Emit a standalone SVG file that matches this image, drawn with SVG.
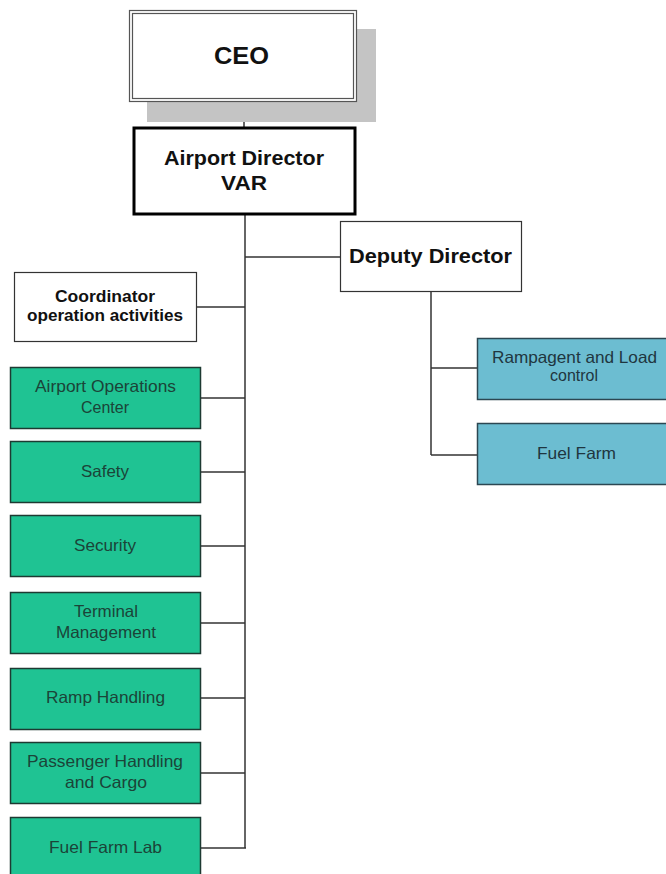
<svg xmlns="http://www.w3.org/2000/svg" width="666" height="874" viewBox="0 0 666 874">
  <style>
    .t { font-family: "Liberation Sans", Arial, sans-serif; text-anchor: middle; }
    .b { font-weight: bold; fill: #111; }
    .g rect { fill: #1fc393; stroke: #1d3a32; stroke-width: 1.5; }
    .g text { fill: #1b4438; font-size: 16.5px; }
    .bl rect { fill: #6cbdd1; stroke: #2c4752; stroke-width: 1.5; }
    .bl text { fill: #1f3640; font-size: 16.5px; }
    .w rect { fill: #fff; stroke: #333; stroke-width: 1.2; }
    .conn line { stroke: #333; stroke-width: 1.5; }
    .main { stroke: #000; stroke-width: 2.5; }
  </style>

  <rect width="666" height="874" fill="#fff"/>

  <g class="conn">
    <line x1="244" y1="101" x2="244" y2="128"/>
    <line class="main" x1="245" y1="215" x2="245" y2="848"/>
    <line x1="245" y1="257" x2="340" y2="257"/>
    <line x1="197" y1="307" x2="245" y2="307"/>
    <line x1="201" y1="398" x2="245" y2="398"/>
    <line x1="201" y1="472" x2="245" y2="472"/>
    <line x1="201" y1="546" x2="245" y2="546"/>
    <line x1="201" y1="623" x2="245" y2="623"/>
    <line x1="201" y1="698" x2="245" y2="698"/>
    <line x1="201" y1="773" x2="245" y2="773"/>
    <line x1="201" y1="848" x2="246" y2="848"/>
    <line x1="431" y1="292" x2="431" y2="455"/>
    <line x1="431" y1="368" x2="477" y2="368"/>
    <line x1="431" y1="455" x2="477" y2="455"/>
  </g>

  <g id="ceo">
    <rect x="147" y="29" width="229" height="93" fill="#c4c4c4"/>
    <rect x="129.5" y="10.5" width="227" height="91" fill="#fff" stroke="#555" stroke-width="1.2"/>
    <rect x="132.5" y="13.5" width="221" height="85" fill="none" stroke="#555" stroke-width="1.2"/>
    <text class="t b" x="241.5" y="64" font-size="24" textLength="55" lengthAdjust="spacingAndGlyphs">CEO</text>
  </g>

  <g id="airport-director">
    <rect x="134" y="128" width="221" height="86" fill="#fff" stroke="#000" stroke-width="3"/>
    <text class="t b" x="244" y="165" font-size="20" textLength="160" lengthAdjust="spacingAndGlyphs">Airport Director</text>
    <text class="t b" x="244" y="190" font-size="20" textLength="46" lengthAdjust="spacingAndGlyphs">VAR</text>
  </g>

  <g id="deputy-director" class="w">
    <rect x="340.5" y="221.5" width="181" height="70"/>
    <text class="t b" x="430.5" y="263" font-size="20" textLength="163" lengthAdjust="spacingAndGlyphs">Deputy Director</text>
  </g>

  <g id="coordinator" class="w">
    <rect x="14.5" y="272.5" width="182" height="69"/>
    <text class="t b" x="105" y="302" font-size="16" textLength="100" lengthAdjust="spacingAndGlyphs">Coordinator</text>
    <text class="t b" x="105" y="321" font-size="16" textLength="156" lengthAdjust="spacingAndGlyphs">operation activities</text>
  </g>

  <g id="airport-operations-center" class="g">
    <rect x="10.5" y="367.5" width="190" height="61"/>
    <text class="t" x="105.5" y="392" textLength="141" lengthAdjust="spacingAndGlyphs">Airport Operations</text>
    <text class="t" x="105" y="413" textLength="48" lengthAdjust="spacingAndGlyphs">Center</text>
  </g>

  <g id="safety" class="g">
    <rect x="10.5" y="441.5" width="190" height="61"/>
    <text class="t" x="105" y="477" textLength="48" lengthAdjust="spacingAndGlyphs">Safety</text>
  </g>

  <g id="security" class="g">
    <rect x="10.5" y="515.5" width="190" height="61"/>
    <text class="t" x="105" y="551" textLength="62" lengthAdjust="spacingAndGlyphs">Security</text>
  </g>

  <g id="terminal-management" class="g">
    <rect x="10.5" y="592.5" width="190" height="61"/>
    <text class="t" x="106" y="617" textLength="64" lengthAdjust="spacingAndGlyphs">Terminal</text>
    <text class="t" x="106" y="638" textLength="100" lengthAdjust="spacingAndGlyphs">Management</text>
  </g>

  <g id="ramp-handling" class="g">
    <rect x="10.5" y="668.5" width="190" height="61"/>
    <text class="t" x="105.5" y="703" textLength="119" lengthAdjust="spacingAndGlyphs">Ramp Handling</text>
  </g>

  <g id="passenger-handling" class="g">
    <rect x="10.5" y="742.5" width="190" height="61"/>
    <text class="t" x="105" y="767" textLength="156" lengthAdjust="spacingAndGlyphs">Passenger Handling</text>
    <text class="t" x="106" y="788" textLength="82" lengthAdjust="spacingAndGlyphs">and Cargo</text>
  </g>

  <g id="fuel-farm-lab" class="g">
    <rect x="10.5" y="817.5" width="190" height="70"/>
    <text class="t" x="105.5" y="853" textLength="113" lengthAdjust="spacingAndGlyphs">Fuel Farm Lab</text>
  </g>

  <g id="rampagent-load-control" class="bl">
    <rect x="477.5" y="338.5" width="200" height="61"/>
    <text class="t" x="574.5" y="363" textLength="165" lengthAdjust="spacingAndGlyphs">Rampagent and Load</text>
    <text class="t" x="574" y="381" textLength="48" lengthAdjust="spacingAndGlyphs">control</text>
  </g>

  <g id="fuel-farm" class="bl">
    <rect x="477.5" y="423.5" width="200" height="61"/>
    <text class="t" x="576.5" y="459" textLength="79" lengthAdjust="spacingAndGlyphs">Fuel Farm</text>
  </g>
</svg>
